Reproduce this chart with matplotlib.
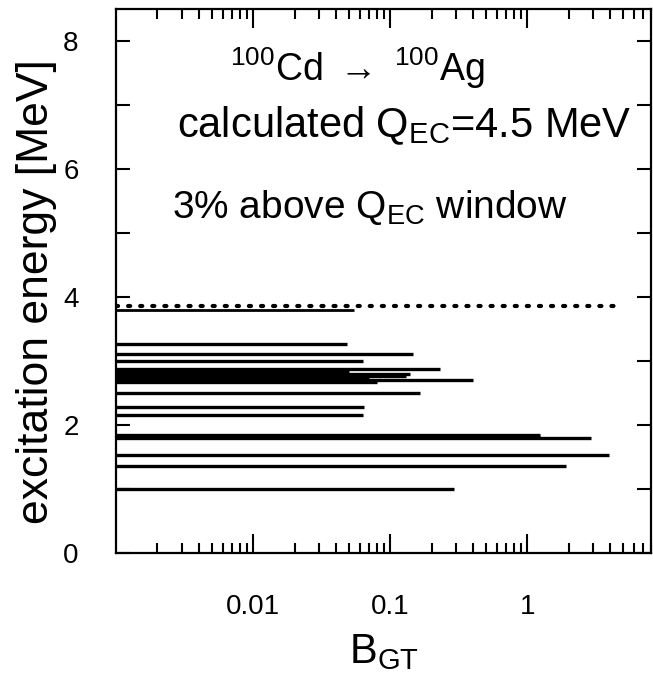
import matplotlib
matplotlib.use("Agg")
import matplotlib.pyplot as plt
from matplotlib.ticker import MultipleLocator, LogLocator, FixedLocator, FixedFormatter, NullFormatter

plt.rcParams['font.family'] = ['Liberation Sans', 'DejaVu Sans']
plt.rcParams['mathtext.fontset'] = 'custom'
plt.rcParams['mathtext.rm'] = 'Liberation Sans'
plt.rcParams['mathtext.it'] = 'Liberation Sans'
plt.rcParams['mathtext.bf'] = 'Liberation Sans'

# excitation energies (MeV) and B_GT strength of each level
energies = [3.26, 3.11, 3.00, 2.87, 2.82, 2.79, 2.76, 2.73, 2.70, 2.67,
            2.50, 2.28, 2.16, 1.84, 1.81, 1.79, 1.53, 1.35, 1.00]
bgt = [0.048, 0.146, 0.063, 0.23, 0.05, 0.14, 0.13, 0.07, 0.40, 0.08,
       0.164, 0.064, 0.063, 1.24, 1.24, 2.9, 3.95, 1.92, 0.29]

# Q_EC window line
window_energy = 3.85
window_solid_energy = 3.80
window_solid_end = 0.054
window_dot_end = 4.9

x_min, x_max = 0.001, 8.0
y_min, y_max = 0.0, 8.5

fig = plt.figure(figsize=(6.53, 6.75), dpi=100)
ax = fig.add_axes([0.178, 0.181, 0.819, 0.806])

ax.hlines(energies, x_min, bgt, colors='black', linewidth=2.4)
ax.hlines([window_solid_energy], x_min, [window_solid_end], colors='black', linewidth=2.0)
ax.plot([x_min, window_dot_end], [window_energy, window_energy], color='black',
        linewidth=3.0, linestyle=(0, (0.5, 2.4)), dash_capstyle='round')

ax.set_xscale('log')
ax.set_xlim(x_min, x_max)
ax.set_ylim(y_min, y_max)

ax.xaxis.set_major_locator(FixedLocator([0.01, 0.1, 1]))
ax.xaxis.set_major_formatter(FixedFormatter(['0.01', '0.1', '1']))
ax.xaxis.set_minor_locator(LogLocator(base=10, subs=range(2, 10), numticks=20))
ax.xaxis.set_minor_formatter(NullFormatter())
ax.yaxis.set_major_locator(MultipleLocator(2))
ax.yaxis.set_minor_locator(MultipleLocator(1))

ax.tick_params(which='both', direction='in', top=True, right=True, width=1.5)
ax.tick_params(which='major', axis='x', length=14, labelsize=20, pad=30)
ax.tick_params(which='minor', axis='x', length=7)
ax.tick_params(which='both', axis='y', length=10, labelsize=20, pad=27)
for s in ax.spines.values():
    s.set_linewidth(1.6)

ax.set_ylabel('excitation energy [MeV]', fontsize=32, va='center')
ax.yaxis.set_label_coords(-0.15, 0.48)
ax.set_xlabel(r'B$_{\mathrm{GT}}$', fontsize=30, labelpad=8)

ax.text(0.45, 0.89, r'$^{100}$Cd $\rightarrow$ $^{100}$Ag', transform=ax.transAxes,
        fontsize=27, ha='center', va='center')
ax.text(0.538, 0.785, r'calculated Q$_{\mathrm{EC}}$=4.5 MeV', transform=ax.transAxes,
        fontsize=30, ha='center', va='center')
ax.text(0.105, 0.634, r'3% above Q$_{\mathrm{EC}}$ window', transform=ax.transAxes,
        fontsize=28, ha='left', va='center')

fig.savefig('out.png', dpi=100, facecolor='white')
